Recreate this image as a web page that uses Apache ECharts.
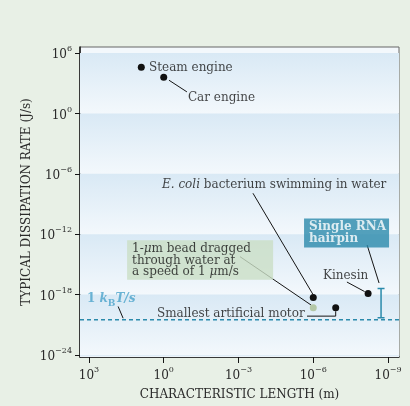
<!DOCTYPE html>
<html>
<head>
<meta charset="utf-8">
<script src="https://cdn.jsdelivr.net/npm/echarts@6/dist/echarts.min.js"></script>
<style>
html, body { margin: 0; padding: 0; background: #e8f0e6; }
#main { width: 410px; height: 406px; }
</style>
</head>
<body>
<div id="main"></div>
<script>
// all values are log10 exponents
var xTicks = [3, 0, -3, -6, -9];
var yTicks = [6, 0, -6, -12, -18, -24];

var pointNames = ['Steam engine', 'Car engine', 'E. coli', 'Bead', 'Smallest artificial motor', 'Kinesin'];
var lengthExp = [0.9, 0, -6, -6, -6.9, -8.2];
var rateExp = [4.6, 3.6, -18.3, -19.3, -19.3, -17.9];

var rnaLength = -8.72;
var rnaRate = [-17.4, -20.3];
var kTRate = -20.5;

var FONT = 'DejaVu Serif';
var BLUE = '#2a8aab';
var INK = '#151515';

var sup = function(v){
	return String(v).replace('-', '\u2212');
}

var tickLabel = function(v){
	return '{b|10}{s|' + sup(v) + '}';
}
var tickRich = {
	b: { fontFamily: FONT, fontSize: 12, color: '#2a2a2a', lineHeight: 16, verticalAlign: 'bottom' },
	s: { fontFamily: FONT, fontSize: 8, color: '#2a2a2a', lineHeight: 16, verticalAlign: 'top' }
}

/* points */
var dots = [];
for (var i = 0; i < pointNames.length; i++) {
	dots.push({
		name: pointNames[i],
		value: [lengthExp[i], rateExp[i]],
		itemStyle: { color: pointNames[i] == 'Bead' ? '#b4c7a6' : '#111', opacity: 1 }
	});
}

/* bands behind the plot, one per tick interval */
var band = {
	type: 'linear', x: 0, y: 0, x2: 0, y2: 1,
	colorStops: [{ offset: 0, color: '#d9e9f5' }, { offset: 1, color: '#f3f8fc' }]
}
var bands = [];
for (var j = 0; j < yTicks.length; j++) {
	var lo = j < yTicks.length - 1 ? yTicks[j + 1] : -24.2;
	bands.push([{ yAxis: yTicks[j], itemStyle: { color: band } }, { yAxis: lo }]);
}

/* leader lines (start near the text, end near the dot) */
var leaders = [
	[[-0.21, 3.3], [-0.93, 2.14]],
	[[-3.58, -7.93], [lengthExp[2] + 0.02, rateExp[2] + 0.35]],
	[[-3.06, -14.23], [lengthExp[3] + 0.08, rateExp[3] + 0.25]],
	[[-8.16, -13.07], [rnaLength + 0.08, rnaRate[0] + 0.55]],
	[[-7.35, -16.75], [lengthExp[5] + 0.14, rateExp[5] + 0.2]],
	[[1.83, -19.18], [1.63, kTRate + 0.15]]
];
var leaderData = leaders.map(function(c){ return { coords: c }; });
leaderData.push({ coords: [[-5.75, -20.14], [lengthExp[4], -20.14], [lengthExp[4], -19.66]] });

var errData = [
	{ coords: [[rnaLength, rnaRate[0]], [rnaLength, rnaRate[1]]] },
	{ coords: [[rnaLength + 0.14, rnaRate[0]], [rnaLength - 0.14, rnaRate[0]]] },
	{ coords: [[rnaLength + 0.14, rnaRate[1]], [rnaLength - 0.14, rnaRate[1]]] }
];

/* text notes */
var notes = [
	{ value: [0.59, 4.57], label: { position: 'right', distance: 0, formatter: 'Steam engine' } },
	{ value: [-0.97, 1.56], label: { position: 'right', distance: 0, formatter: 'Car engine' } },
	{ value: [0.07, -7.06], label: { position: 'right', distance: 0,
		formatter: '{i|E. coli} bacterium swimming in water',
		rich: { i: { fontFamily: FONT, fontSize: 12, fontStyle: 'italic', color: INK } } } },
	{ value: [1.47, -12.59], label: { position: [0, 0],
		formatter: '1-{i|\u03bc}m bead dragged\nthrough water at\na speed of 1 {i|\u03bc}m/s',
		backgroundColor: '#cbdec6', padding: [3, 5, 2, 5], width: 136, lineHeight: 11.5,
		rich: { i: { fontFamily: FONT, fontSize: 12, fontStyle: 'italic', color: INK, lineHeight: 11.5 } } } },
	{ value: [-5.63, -10.45], label: { position: [0, 0],
		formatter: 'Single RNA\nhairpin',
		backgroundColor: BLUE, color: '#fff', fontWeight: 'bold', padding: [2, 5, 2, 5], width: 75, lineHeight: 12.5 } },
	{ value: [-6.39, -16.17], label: { position: 'right', distance: 0, formatter: 'Kinesin' } },
	{ value: [0.27, -19.95], label: { position: 'right', distance: 0, formatter: 'Smallest artificial motor' } },
	{ value: [3.08, -18.59], label: { position: 'right', distance: 0,
		formatter: '{n|1 }{i|k}{d|B}{i|T/s}',
		rich: {
			n: { fontFamily: FONT, fontSize: 12, fontWeight: 'bold', color: '#4aa3cb', lineHeight: 16, verticalAlign: 'top' },
			i: { fontFamily: FONT, fontSize: 12, fontWeight: 'bold', fontStyle: 'italic', color: '#4aa3cb', lineHeight: 16, verticalAlign: 'top' },
			d: { fontFamily: FONT, fontSize: 9, fontWeight: 'bold', color: '#4aa3cb', lineHeight: 15, verticalAlign: 'bottom' }
		} } }
];

var chart = echarts.init(document.getElementById('main'));
chart.setOption({
	backgroundColor: '#e8f0e6',
	animation: false,
	grid: {
		left: 80, right: 11, top: 47, bottom: 41,
		show: true, backgroundColor: '#f3f8fc', borderColor: '#666', borderWidth: 1
	},
	xAxis: {
		type: 'value', min: -9.44, max: 3.36, inverse: true,
		name: 'CHARACTERISTIC LENGTH (m)', nameLocation: 'middle', nameGap: 32, nameMoveOverlap: false,
		nameTextStyle: { fontFamily: FONT, fontSize: 12, color: '#2a2a2a' },
		axisLine: { onZero: false, lineStyle: { color: INK, width: 1.5 } },
		axisTick: { customValues: xTicks, length: 6, lineStyle: { color: INK } },
		axisLabel: { customValues: xTicks, margin: 9, formatter: tickLabel, rich: tickRich },
		splitLine: { show: false }
	},
	yAxis: {
		type: 'value', min: -24.2, max: 6.6,
		name: 'TYPICAL DISSIPATION RATE (J/s)', nameLocation: 'middle', nameGap: 47, nameMoveOverlap: false,
		nameTextStyle: { fontFamily: FONT, fontSize: 12, color: '#2a2a2a' },
		axisLine: { onZero: false, lineStyle: { color: INK, width: 1.5 } },
		axisTick: { customValues: yTicks, length: 5, lineStyle: { color: INK } },
		axisLabel: { customValues: yTicks, margin: 8, formatter: tickLabel, rich: tickRich },
		splitLine: { show: false }
	},
	series: [
		{
			type: 'line', name: 'kT', silent: true, symbol: 'none',
			data: [[3.36, kTRate], [-9.44, kTRate]],
			lineStyle: { color: BLUE, width: 1.5, type: [4, 3] },
			markArea: { silent: true, data: bands }
		},
		{
			type: 'lines', coordinateSystem: 'cartesian2d', polyline: true, silent: true,
			data: leaderData, lineStyle: { color: INK, width: 1, opacity: 1 }
		},
		{
			type: 'lines', coordinateSystem: 'cartesian2d', polyline: true, silent: true,
			data: errData, lineStyle: { color: BLUE, width: 1.5, opacity: 1 }
		},
		{
			type: 'scatter', symbolSize: 7, data: dots, z: 5
		},
		{
			type: 'scatter', symbolSize: 0, data: notes, silent: true, z: 6,
			label: { show: true, fontFamily: FONT, fontSize: 12, color: INK }
		}
	]
});
</script>
</body>
</html>
